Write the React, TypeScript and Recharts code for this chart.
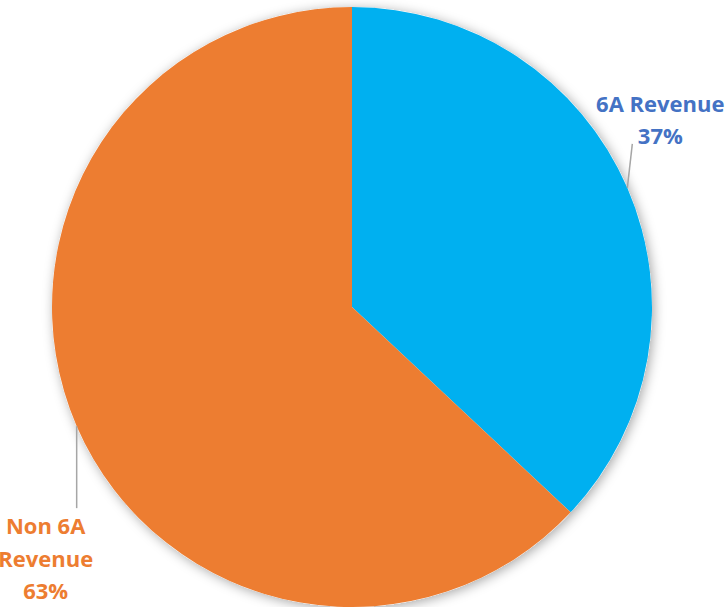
import React from "react";
import { PieChart, Pie, Cell } from "recharts";

const categories = ["6A Revenue", "Non 6A Revenue"];
const values = [37, 63];
const sliceColors = ["#00B0F0", "#ED7D31"];
const labelColors = ["#4472C4", "#ED7D31"];
const labelLines = [["6A Revenue", "37%"], ["Non 6A", "Revenue", "63%"]];

const data = categories.map((name, i) => ({ name, value: values[i] }));
const shadowData = [{ name: "bg", value: 1 }];

const RAD = Math.PI / 180;
const FONT = 22;

const renderLabel = (props: any) => {
  const { cx, cy, midAngle, outerRadius, index } = props;
  const ex = cx + outerRadius * Math.cos(-midAngle * RAD);
  const ey = cy + outerRadius * Math.sin(-midAngle * RAD);
  const color = labelColors[index];
  const lines = labelLines[index];
  const lh = 32.5;
  if (index === 0) {
    const tx = ex + 33;
    const baseY = ey - 85;
    return (
      <g>
        <line x1={ex} y1={ey} x2={ex + 5} y2={ey - 44} stroke="#A6A6A6" strokeWidth={1.5} />
        {lines.map((t, k) => (
          <text key={k} x={tx} y={baseY + k * lh} textAnchor="middle" dominantBaseline="central"
            fill={color} fontWeight="bold" fontSize={FONT} fontFamily="'Open Sans', sans-serif">{t}</text>
        ))}
      </g>
    );
  }
  const tx = ex - 31;
  const baseY = ey + 99;
  return (
    <g>
      <line x1={ex} y1={ey} x2={ex} y2={ey + 82} stroke="#A6A6A6" strokeWidth={1.5} />
      {lines.map((t, k) => (
        <text key={k} x={tx} y={baseY + k * lh} textAnchor="middle" dominantBaseline="central"
          fill={color} fontWeight="bold" fontSize={FONT} fontFamily="'Open Sans', sans-serif">{t}</text>
      ))}
    </g>
  );
};

export default function App() {
  return (
    <div style={{ position: "absolute", left: 0, top: 0, width: 727, height: 607, background: "#fff" }}>
      <svg width={0} height={0} style={{ position: "absolute" }}>
        <defs>
          <filter id="pieShadow" x="-20%" y="-20%" width="140%" height="140%">
            <feDropShadow dx={2} dy={2} stdDeviation={6} floodColor="#000" floodOpacity={0.35} />
          </filter>
        </defs>
      </svg>
      <PieChart width={727} height={607} margin={{ top: 0, right: 0, bottom: 0, left: 0 }}>
        <Pie data={shadowData} dataKey="value" cx={352} cy={307} outerRadius={300}
          startAngle={90} endAngle={-270} isAnimationActive={false} stroke="none" label={false} labelLine={false}>
          <Cell fill="#ffffff" filter="url(#pieShadow)" />
        </Pie>
        <Pie data={data} dataKey="value" nameKey="name" cx={352} cy={307} outerRadius={300}
          startAngle={90} endAngle={-270} isAnimationActive={false} stroke="none"
          label={renderLabel} labelLine={false}>
          {data.map((d, i) => (
            <Cell key={d.name} fill={sliceColors[i]} />
          ))}
        </Pie>
      </PieChart>
    </div>
  );
}
